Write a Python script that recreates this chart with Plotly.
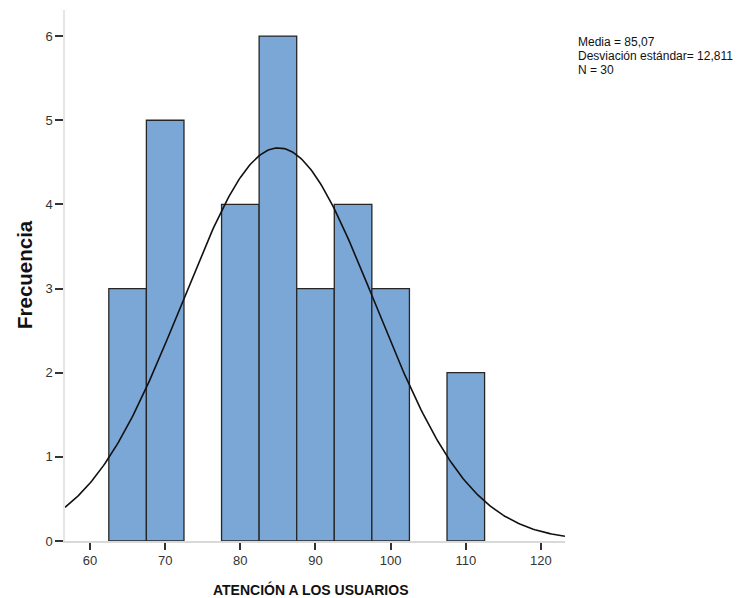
import numpy as np
import plotly.graph_objects as go

bin_centers = [65, 70, 80, 85, 90, 95, 100, 110]
counts = [3, 5, 4, 6, 3, 4, 3, 2]
bin_width = 5
mean = 85.07
sd = 12.811
n = 30
x_ticks = [60, 70, 80, 90, 100, 110, 120]
y_ticks = [0, 1, 2, 3, 4, 5, 6]
stats_lines = ["Media = 85,07", "Desviación estándar= 12,811", "N = 30"]
x_title = "ATENCIÓN A LOS USUARIOS"
y_title = "Frecuencia"

x_range = [56.67, 123.2]
y_range = [0, 6.31]

xs = np.linspace(x_range[0], x_range[1], 300)
ys = n * bin_width / (sd * np.sqrt(2 * np.pi)) * np.exp(-0.5 * ((xs - mean) / sd) ** 2)

fig = go.Figure()
fig.add_trace(go.Bar(x=bin_centers, y=counts, width=bin_width,
                     marker=dict(color="#7BA7D6", line=dict(color="#262626", width=1.3)),
                     hoverinfo="skip"))
fig.add_trace(go.Scatter(x=xs, y=ys, mode="lines", line=dict(color="#111111", width=1.6),
                         hoverinfo="skip"))

L, R, T, B = 65, 180, 10, 57
W, H = 745, 598
pw, ph = W - L - R, H - T - B

def px_x(x):
    return (x - L) / pw

def px_y(y):
    return (H - B - y) / ph

annotations = []
for i, line in enumerate(stats_lines):
    annotations.append(dict(xref="paper", yref="paper", x=px_x(576), y=px_y(42 + 14 * i),
                            xanchor="left", yanchor="middle", showarrow=False, text=line,
                            font=dict(size=12, color="#111111", family="Liberation Sans, Arial")))
annotations.append(dict(xref="paper", yref="paper", x=px_x(311), y=px_y(589),
                        xanchor="center", yanchor="middle", showarrow=False,
                        text="<b>" + x_title + "</b>",
                        font=dict(size=14, color="#111111", family="Liberation Sans, Arial")))
annotations.append(dict(xref="paper", yref="paper", x=px_x(24), y=px_y(275),
                        xanchor="center", yanchor="middle", showarrow=False, textangle=-90,
                        text="<b>" + y_title + "</b>",
                        font=dict(size=20.5, color="#111111", family="Liberation Sans, Arial")))

fig.update_layout(
    width=W, height=H,
    margin=dict(l=L, r=R, t=T, b=B, autoexpand=False),
    paper_bgcolor="white", plot_bgcolor="white",
    showlegend=False,
    font=dict(family="Liberation Sans, Arial, sans-serif", color="#333333"),
    xaxis=dict(range=x_range, tickvals=x_ticks, showgrid=False, zeroline=False, automargin=False,
               showline=True, linecolor="#d9d9d9", linewidth=1.5,
               ticks="outside", ticklen=7, tickwidth=1.5, tickcolor="#333333",
               tickfont=dict(size=13, color="#333333")),
    yaxis=dict(range=y_range, tickvals=y_ticks, showgrid=False, zeroline=False, automargin=False,
               showline=True, linecolor="#e6e6e6", linewidth=1.5,
               ticks="outside", ticklen=8, tickwidth=1.5, tickcolor="#333333",
               tickfont=dict(size=13, color="#333333")),
    annotations=annotations,
)

fig.write_html("out.html", config={"displayModeBar": False},
               post_script="document.body.style.margin='0px';document.body.style.overflow='hidden';")
